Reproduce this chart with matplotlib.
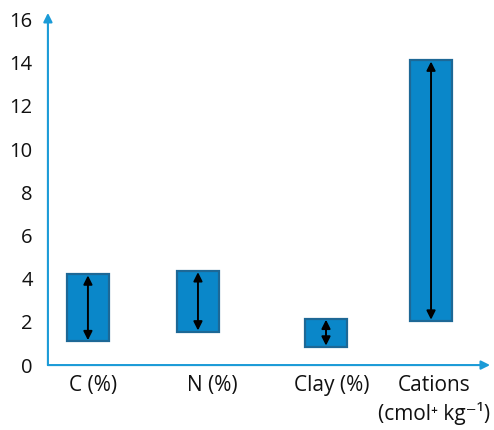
import matplotlib
matplotlib.use("Agg")
import matplotlib.pyplot as plt

# data: low / high of each range
categories = ["C (%)", "N (%)", "Clay (%)", "Cations\n(cmol\u207a kg\u207b\u00b9)"]
low = [1.1, 1.55, 0.85, 2.05]
high = [4.2, 4.35, 2.15, 14.1]
y_ticks = [0, 2, 4, 6, 8, 10, 12, 14, 16]

# layout (x in pixels from the y axis)
bar_x = [40, 150, 278, 383]
label_x = [45, 164, 284, 386]
bar_w = 42

plt.rcParams['font.family'] = ['Open Sans', 'DejaVu Sans']

fig = plt.figure(figsize=(4.94, 4.30), dpi=100)
ax = fig.add_axes([0.097, 0.151, 0.895, 0.819])

axis_col = "#1b9bd7"
fill_col = "#0a87c9"
edge_col = "#1d6896"

heights = [h - l for l, h in zip(low, high)]
ax.bar(bar_x, heights, bottom=low, width=bar_w, color=fill_col,
       edgecolor=edge_col, linewidth=1.6, zorder=2)

for x, l, h in zip(bar_x, low, high):
    ax.annotate("", xy=(x, h - 0.05), xytext=(x, l + 0.05),
                arrowprops=dict(arrowstyle="<|-|>", color="black", lw=1.4,
                                mutation_scale=13, shrinkA=0, shrinkB=0),
                zorder=3)

ax.set_xlim(0, 442)
ax.set_ylim(0, 16.3)

for s in ax.spines.values():
    s.set_visible(False)

# axis lines with arrow heads
ax.annotate("", xy=(0, 1), xycoords="axes fraction", xytext=(0, 0),
            arrowprops=dict(arrowstyle="-|>", color=axis_col, lw=1.5,
                            mutation_scale=13, shrinkA=0, shrinkB=0))
ax.annotate("", xy=(1, 0), xycoords="axes fraction", xytext=(0, 0),
            arrowprops=dict(arrowstyle="-|>", color=axis_col, lw=1.5,
                            mutation_scale=13, shrinkA=0, shrinkB=0))

ax.set_yticks(y_ticks)
ax.set_yticklabels([str(t) for t in y_ticks], fontsize=14.5, color="#111111")
ax.set_xticks(label_x)
ax.set_xticklabels(categories, fontsize=15, color="#111111", linespacing=1.35)
ax.tick_params(axis="both", length=0)
ax.tick_params(axis="y", pad=11)
ax.tick_params(axis="x", pad=7)

fig.savefig("out.png", dpi=100)
